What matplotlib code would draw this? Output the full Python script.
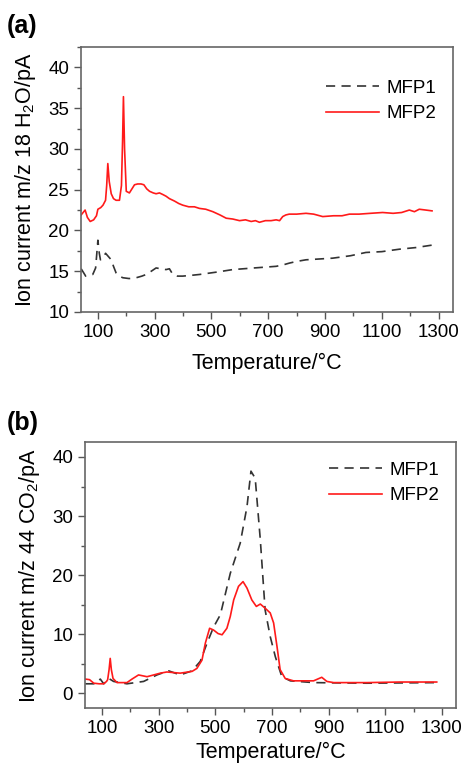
import matplotlib
matplotlib.use("Agg")
import matplotlib.pyplot as plt
from matplotlib.ticker import MultipleLocator

plt.rcParams['font.family'] = ['Liberation Sans', 'DejaVu Sans']
plt.rcParams['mathtext.fontset'] = 'custom'
plt.rcParams['mathtext.rm'] = 'Liberation Sans'

# (a) m/z 18 H2O
a_t2 = [41, 55, 63, 73, 85, 95, 100, 110, 118, 127, 131, 135, 140, 147, 155, 164, 176, 183, 187, 190,
        194, 200, 211, 220, 229, 240, 252, 262, 272, 282, 295, 305, 317, 329, 340, 352, 370, 385, 399,
        420, 440, 458, 480, 505, 530, 552, 575, 599, 620, 640, 655, 669, 690, 710, 728, 740, 751, 762,
        774, 800, 833, 860, 892, 930, 960, 986, 1020, 1060, 1103, 1140, 1170, 1197, 1215, 1232, 1255, 1277]
a_mfp2 = [21.9, 22.5, 21.6, 21.1, 21.3, 21.8, 22.6, 22.8, 23.1, 23.7, 25.5, 28.2, 26.0, 24.5, 23.9, 23.7, 23.7, 25.5, 31.0, 36.4,
          30.0, 24.8, 24.6, 25.1, 25.6, 25.7, 25.7, 25.6, 25.1, 24.8, 24.6, 24.5, 24.6, 24.4, 24.2, 23.9, 23.6, 23.3, 23.1,
          22.9, 22.9, 22.7, 22.6, 22.3, 21.9, 21.5, 21.4, 21.2, 21.3, 21.1, 21.2, 21.0, 21.2, 21.2, 21.3, 21.2, 21.7, 21.9,
          22.0, 22.0, 22.1, 22.0, 21.7, 21.8, 21.8, 22.0, 22.0, 22.1, 22.2, 22.1, 22.2, 22.5, 22.3, 22.6, 22.5, 22.4]
a_t1 = [41, 50, 57, 70, 82, 92, 100, 105, 109, 118, 127, 137, 147, 155, 164, 175, 188, 210, 235, 255, 270, 288,
        305, 322, 340, 352, 364, 380, 399, 430, 458, 520, 575, 650, 728, 755, 775, 800, 833, 880, 927, 990, 1044,
        1100, 1162, 1220, 1277]
a_mfp1 = [15.3, 14.8, 14.4, 14.5, 14.6, 15.4, 18.8, 17.2, 16.4, 16.6, 17.2, 16.8, 16.4, 15.6, 14.8, 14.4, 14.2, 14.1, 14.2, 14.4, 14.6, 15.0,
          15.4, 15.3, 15.2, 15.3, 14.6, 14.4, 14.4, 14.5, 14.6, 14.9, 15.2, 15.4, 15.6, 15.8, 16.0, 16.2, 16.4, 16.5, 16.6, 16.9, 17.3,
          17.4, 17.7, 17.9, 18.2]

# (b) m/z 44 CO2
b_t2 = [41, 56, 71, 90, 106, 116, 120, 125, 129, 133, 139, 153, 188, 206, 229, 259, 306, 329, 376, 418, 435, 453,
        465, 480, 494, 510, 524, 541, 553, 565, 582, 598, 612, 629, 645, 659, 676, 694, 706, 718, 729, 747,
        776, 847, 876, 894, 918, 1035, 1153, 1282]
b_mfp2 = [2.4, 2.3, 1.7, 1.6, 1.6, 2.0, 2.3, 4.0, 5.9, 4.0, 2.5, 1.8, 1.8, 2.4, 3.1, 2.8, 3.4, 3.6, 3.4, 3.7, 4.2, 5.6,
          8.5, 11.0, 10.7, 10.1, 9.9, 11.0, 13.0, 15.8, 18.1, 18.9, 17.8, 15.8, 14.7, 15.1, 14.4, 13.6, 11.9, 7.9, 4.0, 2.5,
          2.1, 2.1, 2.7, 2.0, 1.8, 1.8, 1.9, 1.9]
b_t1 = [41, 76, 94, 106, 124, 141, 188, 247, 294, 335, 376, 418, 447, 471, 494, 518, 553, 588, 612, 626, 641,
        659, 676, 694, 712, 735, 765, 847, 1035, 1282]
b_mfp1 = [1.6, 1.6, 2.4, 1.6, 2.5, 2.0, 1.6, 2.0, 3.1, 3.8, 3.1, 3.8, 5.4, 8.5, 11.2, 13.3, 20.3, 25.4, 31.6, 37.6, 36.4,
          26.0, 14.1, 9.6, 6.2, 2.8, 2.1, 1.8, 1.7, 1.8]

fig = plt.figure(figsize=(4.62, 7.66), dpi=100)
ax1 = fig.add_axes([0.175, 0.5927, 0.805, 0.346])
ax2 = fig.add_axes([0.184, 0.0757, 0.803, 0.347])

# legend anchor (axes fraction) and xlabel pad per panel
leg_pos = {ax1: (1.0, 0.94), ax2: (1.0, 0.99)}
xpad = {ax1: 9, ax2: 4}

for ax, t1, y1, t2, y2 in [(ax1, a_t1, a_mfp1, a_t2, a_mfp2), (ax2, b_t1, b_mfp1, b_t2, b_mfp2)]:
    ax.plot(t1, y1, color='#333333', lw=1.2, dashes=(5.5, 3.8), label='MFP1')
    ax.plot(t2, y2, color='#ff1a1a', lw=1.2, label='MFP2')
    ax.set_xlim(40, 1350)
    ax.set_xticks([100, 300, 500, 700, 900, 1100, 1300])
    ax.set_xticks(range(100, 1301, 100), minor=True)
    ax.tick_params(which='both', direction='out', top=False, right=False, color='#555555', labelsize=13.5)
    ax.tick_params(which='major', length=5, width=1)
    ax.tick_params(which='minor', length=3, width=1)
    for s in ax.spines.values():
        s.set_color('#666666')
        s.set_linewidth(1.2)
    ax.set_xlabel('Temperature/°C', fontsize=15.5, labelpad=xpad[ax])
    ax.legend(loc='upper right', bbox_to_anchor=leg_pos[ax], frameon=False, fontsize=13.5,
              handlelength=2.8, handletextpad=0.4, labelspacing=0.45, borderaxespad=0.5)

ax1.set_ylim(10, 42.5)
ax1.yaxis.set_major_locator(MultipleLocator(5))
ax1.yaxis.set_minor_locator(MultipleLocator(2.5))
ax1.set_ylabel(r'Ion current m/z 18 H$_\mathregular{2}$O/pA', fontsize=15.5, labelpad=7)

ax2.set_ylim(-2.5, 42.5)
ax2.yaxis.set_major_locator(MultipleLocator(10))
ax2.yaxis.set_minor_locator(MultipleLocator(5))
ax2.set_ylabel(r'Ion current m/z 44 CO$_\mathregular{2}$/pA', fontsize=15.5, labelpad=7)

fig.text(0.015, 0.966, '(a)', fontsize=18, fontweight='bold', va='center')
fig.text(0.015, 0.448, '(b)', fontsize=18, fontweight='bold', va='center')

fig.savefig('out.png', dpi=100)
